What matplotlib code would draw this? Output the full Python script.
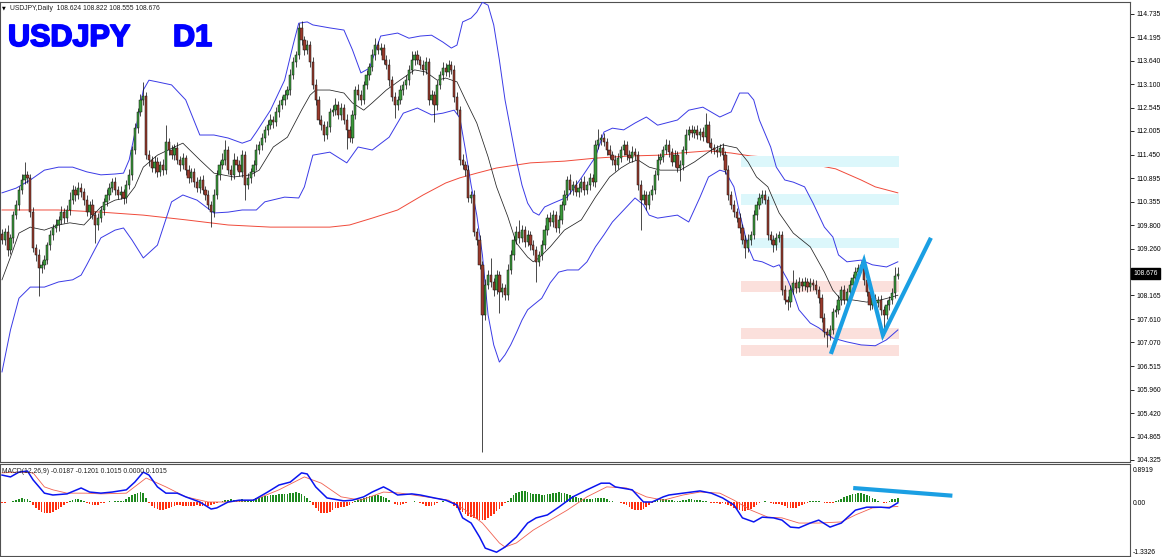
import numpy as np
import matplotlib.pyplot as plt
import matplotlib.transforms as mtrans
import matplotlib.patheffects as pe
from matplotlib.patches import Rectangle

plt.rcParams['font.family'] = ['Liberation Sans', 'DejaVu Sans']

# daily candles: closes, wick sizes (open = previous close)
first_open = 109.60
closes = [
    109.46,109.65,109.23,109.51,110.04,110.28,110.63,110.86,110.98,110.91,
    110.11,109.27,109.11,108.81,108.88,108.99,109.34,109.58,109.74,109.81,
    109.93,110.11,109.97,110.16,110.39,110.63,110.51,110.67,110.58,110.39,
    110.11,110.28,110.04,109.81,109.97,110.16,110.35,110.51,110.67,110.81,
    110.63,110.51,110.58,110.44,110.74,110.98,111.56,112.07,112.45,112.73,
    112.82,111.44,111.33,111.14,111.28,111.05,111.21,111.09,111.75,111.56,
    111.44,111.61,111.33,111.21,111.37,111.09,110.91,111.05,110.81,110.67,
    110.86,110.63,110.51,110.28,110.11,110.51,110.98,111.21,111.33,111.56,
    111.09,110.98,111.33,111.21,111.05,111.44,110.74,110.91,111.05,111.21,
    111.56,111.68,111.84,112.03,112.14,112.26,112.21,112.45,112.61,112.73,
    112.84,112.96,113.31,113.61,113.78,114.41,114.13,113.90,114.01,113.61,
    113.08,112.73,112.26,112.14,111.91,112.10,112.45,112.49,112.61,112.38,
    112.54,112.26,112.03,111.84,112.38,112.96,112.84,112.73,113.08,113.31,
    113.50,113.78,114.01,113.90,113.94,113.66,113.55,113.19,112.80,112.61,
    112.73,112.96,113.08,113.19,113.43,113.66,113.78,113.66,113.55,113.43,
    113.61,112.73,112.84,112.61,113.08,113.31,113.48,113.38,113.55,113.43,
    112.80,112.49,111.33,111.21,111.09,110.44,110.51,109.65,109.46,108.88,
    107.71,108.41,108.64,108.48,108.29,108.64,108.25,108.34,108.17,108.76,
    109.11,109.46,109.65,109.51,109.69,109.41,109.58,109.34,109.23,108.95,
    109.11,109.34,109.69,109.97,109.88,110.04,109.74,109.93,110.28,110.51,
    110.86,110.63,110.74,110.58,110.67,110.81,110.63,110.74,110.91,110.81,
    111.68,111.79,111.84,111.75,111.56,111.44,111.33,111.21,111.37,111.56,
    111.68,111.44,111.37,111.51,111.44,110.74,110.39,110.51,110.28,110.51,
    110.63,110.98,111.33,111.40,111.56,111.68,111.51,111.28,111.44,111.14,
    111.21,111.56,111.91,112.03,111.96,112.03,111.91,111.98,111.86,112.14,
    111.72,111.61,111.56,111.51,111.61,111.44,111.09,110.51,110.28,110.11,
    109.97,109.74,109.46,109.27,109.46,109.58,110.04,110.28,110.44,110.51,
    110.39,109.58,109.46,109.34,109.51,109.58,108.29,108.06,108.01,108.29,
    108.46,108.34,108.48,108.39,108.48,108.36,108.46,108.41,108.29,108.10,
    107.64,107.31,107.24,107.36,107.78,107.83,108.06,108.29,108.06,108.25,
    108.41,108.57,108.71,108.81,108.88,108.53,108.25,107.94,108.10,107.99,
    108.06,107.83,107.71,107.94,108.06,108.22,108.624,108.676,
]
upper_wick = [
    0.12,0.10,0.15,0.08,0.10,0.12,0.09,0.14,0.30,0.10,
    0.08,0.12,0.10,0.15,0.09,0.11,0.08,0.12,0.10,0.13,
    0.10,0.14,0.09,0.12,0.18,0.11,0.10,0.15,0.12,0.09,
    0.11,0.08,0.13,0.10,0.12,0.09,0.10,0.14,0.11,0.09,
    0.12,0.10,0.15,0.08,0.11,0.13,0.10,0.12,0.09,0.14,
    0.33,0.10,0.12,0.09,0.15,0.11,0.10,0.13,0.39,0.10,
    0.12,0.09,0.14,0.10,0.11,0.08,0.12,0.10,0.09,0.13,
    0.10,0.12,0.09,0.11,0.10,0.14,0.12,0.10,0.15,0.23,
    0.10,0.12,0.16,0.09,0.11,0.13,0.10,0.12,0.09,0.11,
    0.14,0.10,0.12,0.09,0.11,0.13,0.10,0.12,0.11,0.09,
    0.12,0.10,0.14,0.11,0.09,0.12,0.15,0.10,0.12,0.09,
    0.11,0.13,0.10,0.12,0.09,0.14,0.10,0.12,0.16,0.09,
    0.11,0.10,0.13,0.09,0.12,0.10,0.14,0.11,0.09,0.12,
    0.10,0.13,0.16,0.09,0.11,0.10,0.12,0.14,0.09,0.11,
    0.10,0.12,0.09,0.13,0.11,0.20,0.10,0.12,0.09,0.11,
    0.13,0.10,0.12,0.09,0.11,0.10,0.14,0.12,0.10,0.09,
    0.11,0.12,0.10,0.13,0.09,0.11,0.10,0.12,0.09,0.11,
    0.10,0.15,0.12,0.40,0.10,0.12,0.09,0.11,0.10,0.13,
    0.12,0.10,0.14,0.28,0.11,0.09,0.12,0.10,0.11,0.09,
    0.10,0.12,0.11,0.09,0.14,0.12,0.10,0.11,0.09,0.12,
    0.10,0.13,0.09,0.11,0.12,0.10,0.14,0.09,0.11,0.10,
    0.12,0.26,0.10,0.11,0.09,0.12,0.10,0.11,0.13,0.09,
    0.12,0.10,0.11,0.14,0.09,0.10,0.12,0.11,0.09,0.10,
    0.12,0.11,0.13,0.09,0.10,0.14,0.11,0.09,0.12,0.10,
    0.11,0.09,0.13,0.10,0.12,0.09,0.11,0.10,0.12,0.28,
    0.10,0.11,0.09,0.12,0.10,0.11,0.09,0.12,0.10,0.11,
    0.09,0.12,0.10,0.11,0.13,0.09,0.12,0.10,0.11,0.12,
    0.12,0.10,0.09,0.11,0.12,0.10,0.09,0.11,0.10,0.12,
    0.30,0.10,0.12,0.09,0.11,0.10,0.12,0.09,0.11,0.10,
    0.09,0.12,0.10,0.11,0.10,0.12,0.11,0.09,0.12,0.10,
    0.11,0.09,0.12,0.10,0.09,0.11,0.12,0.10,0.09,0.11,
    0.10,0.12,0.09,0.11,0.10,0.12,0.20,0.146,
]
lower_wick = [
    0.10,0.12,0.15,0.09,0.11,0.08,0.12,0.10,0.09,0.13,
    0.11,0.10,0.14,0.65,0.12,0.10,0.09,0.12,0.11,0.10,
    0.13,0.09,0.11,0.10,0.12,0.09,0.14,0.10,0.11,0.12,
    0.10,0.13,0.09,0.42,0.11,0.10,0.12,0.09,0.11,0.10,
    0.12,0.10,0.09,0.13,0.11,0.10,0.12,0.09,0.11,0.10,
    0.12,0.10,0.14,0.09,0.11,0.13,0.10,0.12,0.09,0.11,
    0.10,0.12,0.09,0.14,0.10,0.11,0.13,0.09,0.12,0.10,
    0.11,0.09,0.12,0.10,0.35,0.11,0.10,0.12,0.09,0.11,
    0.10,0.12,0.09,0.11,0.10,0.13,0.35,0.10,0.12,0.09,
    0.11,0.10,0.12,0.09,0.11,0.10,0.13,0.09,0.11,0.10,
    0.12,0.09,0.11,0.10,0.12,0.09,0.11,0.13,0.10,0.12,
    0.09,0.11,0.10,0.12,0.14,0.09,0.11,0.10,0.12,0.09,
    0.11,0.10,0.44,0.09,0.12,0.10,0.11,0.13,0.09,0.10,
    0.12,0.09,0.11,0.10,0.12,0.09,0.11,0.13,0.10,0.30,
    0.11,0.09,0.12,0.10,0.11,0.09,0.12,0.10,0.11,0.13,
    0.09,0.12,0.10,0.40,0.11,0.09,0.12,0.10,0.11,0.09,
    0.12,0.10,0.11,0.09,0.13,0.10,0.12,0.09,0.11,0.10,
    3.20,0.12,0.10,0.11,0.13,0.09,0.50,0.12,0.10,0.11,
    0.09,0.12,0.10,0.11,0.09,0.12,0.10,0.11,0.13,0.47,
    0.10,0.12,0.09,0.11,0.10,0.12,0.09,0.11,0.10,0.12,
    0.11,0.09,0.12,0.10,0.11,0.09,0.12,0.10,0.11,0.09,
    0.12,0.10,0.11,0.09,0.12,0.10,0.11,0.13,0.09,0.10,
    0.12,0.11,0.09,0.10,0.12,0.11,0.70,0.10,0.12,0.09,
    0.11,0.10,0.12,0.09,0.11,0.10,0.12,0.09,0.11,0.10,
    0.30,0.12,0.09,0.11,0.10,0.12,0.09,0.11,0.10,0.12,
    0.09,0.11,0.10,0.12,0.09,0.11,0.10,0.12,0.09,0.11,
    0.10,0.12,0.09,0.23,0.10,0.12,0.09,0.11,0.10,0.12,
    0.09,0.11,0.10,0.16,0.12,0.09,0.11,0.10,0.18,0.12,
    0.09,0.11,0.10,0.12,0.09,0.11,0.10,0.12,0.09,0.11,
    0.10,0.12,0.28,0.11,0.10,0.12,0.09,0.11,0.10,0.12,
    0.09,0.11,0.10,0.12,0.09,0.11,0.10,0.12,0.09,0.11,
    0.10,0.12,0.47,0.10,0.11,0.09,0.12,0.069,
]

# Bollinger bands (20,2) and MA200, read at selected bars
bb_up_x = [0,5,10,15,20,25,30,35,40,43,45,48,50,52,55,60,65,70,75,80,85,88,90,95,100,103,105,108,110,116,
           121,124,127,130,134,140,144,148,152,156,159,161,163,166,168,170,172,174,176,178,180,182,184,186,188,190,192,195,200,205,
           210,213,216,220,224,228,232,239,243,248,254,258,261,264,266,268,272,274,277,280,284,287,291,294,296,299,304,308,313,317]
bb_up = [110.56,110.67,110.86,111.09,111.16,111.16,111.05,110.98,111.00,111.02,111.33,112.26,112.96,113.19,113.15,113.08,112.73,111.91,111.91,111.84,
         111.72,111.79,111.98,112.49,113.19,114.01,114.52,114.55,114.48,114.41,114.36,113.90,113.36,113.47,114.22,114.29,114.17,114.22,114.24,114.08,
         113.94,114.01,114.55,114.64,114.78,115.01,114.94,114.48,113.66,112.73,112.03,111.33,110.74,110.32,110.11,110.04,110.23,110.32,110.46,110.91,
         111.40,111.98,112.07,112.03,112.19,112.33,112.14,112.26,112.49,112.56,112.33,112.45,112.89,112.89,112.73,112.26,111.63,111.16,110.86,110.81,
         110.70,110.32,109.76,109.53,109.11,108.95,108.99,108.88,108.83,108.95]
bb_lo_x = [0,3,6,10,15,20,25,28,30,35,40,43,46,50,55,60,64,69,75,80,85,90,93,100,105,107,110,116,122,126,
           131,137,142,147,152,156,160,162,164,166,168,170,172,174,176,178,180,182,184,186,188,191,194,197,200,204,207,210,213,216,
           220,224,227,229,232,239,243,247,250,254,256,259,261,264,266,269,273,275,278,280,282,286,289,294,299,304,309,313,317]
bb_lo = [106.38,107.36,108.10,108.36,108.36,108.48,108.53,108.64,108.88,109.51,109.69,109.74,109.46,109.04,109.34,110.35,110.51,110.39,110.09,110.11,
         110.16,110.16,110.35,110.46,110.44,110.70,111.44,111.51,111.26,111.63,111.56,111.86,112.42,112.54,112.38,112.42,112.49,112.31,111.56,110.74,
         110.04,109.11,107.71,107.01,106.61,106.78,107.01,107.29,107.59,107.83,107.94,108.10,108.46,108.71,108.76,108.76,108.95,109.30,109.58,109.88,
         110.16,110.44,110.28,110.04,109.97,110.04,109.88,110.46,110.93,111.09,111.05,110.70,110.09,109.30,108.99,108.95,108.83,108.88,108.53,108.22,
         107.83,107.52,107.41,107.17,107.08,107.01,106.99,107.13,107.36]
mid_x = [0,3,6,10,15,20,24,29,35,40,44,47,50,55,61,64,70,75,82,88,91,96,101,106,109,111,116,121,124,128,
         131,136,140,146,150,154,157,161,164,168,172,175,179,182,186,188,190,194,199,205,210,215,219,222,225,229,233,240,245,251,
         255,260,264,267,271,275,280,286,291,294,297,301,306,311,315,317]
mid = [108.53,109.06,109.62,109.76,109.69,109.81,109.86,109.81,110.23,110.39,110.44,110.70,111.16,111.44,111.63,111.72,111.33,111.02,110.93,110.98,
       111.09,111.63,111.86,112.49,112.84,112.96,112.96,112.89,112.66,112.49,112.66,112.96,113.15,113.43,113.38,113.19,113.24,113.15,112.73,112.19,
       111.40,110.70,110.00,109.39,109.06,108.95,109.04,109.30,109.69,109.93,110.46,110.93,111.14,111.26,111.33,111.16,111.09,111.09,111.28,111.56,
       111.68,111.61,111.28,110.93,110.70,110.09,109.62,109.30,108.71,108.29,108.06,108.06,108.01,108.06,108.13,108.17]
ma200_x = [0,20,35,50,65,80,95,116,123,131,140,149,157,162,168,175,187,199,210,222,233,240,250,258,265,276,288,295,304,309,317]
ma200 = [110.16,110.16,110.11,110.04,109.93,109.81,109.76,109.76,109.81,109.97,110.16,110.51,110.79,110.91,111.02,111.14,111.26,111.30,111.37,111.42,
         111.44,111.49,111.54,111.49,111.42,111.37,111.21,111.12,110.86,110.70,110.56]

# MACD(12,26,9)
macd_x = [0,3,6,9,11,15,18,23,28,31,35,39,44,47,50,52,55,58,62,65,70,74,76,80,84,89,94,98,102,106,
          108,111,115,121,124,128,131,135,137,140,145,148,153,157,161,163,166,169,171,175,178,182,186,189,193,197,202,207,212,215,
          217,223,227,230,234,236,241,247,251,255,259,262,266,269,273,276,279,282,286,289,293,297,299,302,306,311,314,317]
macd = [0.73,0.68,0.81,0.84,0.60,0.24,0.19,0.22,0.38,0.27,0.24,0.27,0.33,0.54,0.81,0.73,0.41,0.24,0.24,0.14,
        0.00,-0.19,-0.16,0.00,0.05,0.05,0.27,0.46,0.54,0.79,0.76,0.41,0.11,0.03,0.05,0.14,0.27,0.41,0.33,0.19,
        0.22,0.19,0.11,0.05,-0.08,-0.43,-0.57,-0.95,-1.25,-1.36,-1.22,-0.95,-0.57,-0.43,-0.35,-0.14,0.14,0.33,0.51,0.51,
        0.41,0.33,0.00,0.00,0.14,0.19,0.24,0.30,0.24,0.11,-0.08,-0.43,-0.54,-0.41,-0.43,-0.49,-0.68,-0.70,-0.57,-0.49,
        -0.68,-0.57,-0.43,-0.22,-0.14,-0.14,-0.16,-0.02]
signal_x = [0,6,11,15,18,23,30,35,44,51,58,65,73,80,89,98,107,113,120,127,135,141,150,158,164,170,176,178,182,188,
            194,200,207,214,221,228,234,241,247,254,259,265,271,276,282,289,297,302,308,313,317]
signal = [0.79,0.81,0.79,0.41,0.33,0.24,0.24,0.22,0.24,0.65,0.41,0.14,0.00,0.00,0.05,0.33,0.68,0.51,0.14,0.05,
          0.27,0.24,0.14,0.05,-0.22,-0.57,-1.11,-1.22,-1.11,-0.76,-0.49,-0.22,0.14,0.41,0.38,0.14,0.05,0.19,0.27,0.24,
          0.05,-0.22,-0.41,-0.43,-0.57,-0.57,-0.54,-0.35,-0.16,-0.14,-0.12]
osma = [
    -0.02,-0.02,-0.01,-0.01,0.02,0.05,0.08,0.10,0.09,0.07,
    0.03,-0.08,-0.15,-0.22,-0.27,-0.30,-0.31,-0.29,-0.26,-0.22,
    -0.18,-0.13,-0.08,-0.04,0.02,0.06,0.08,0.07,0.05,0.02,
    -0.02,-0.05,-0.08,-0.09,-0.07,-0.04,-0.02,0.01,0.02,0.01,
    0.02,0.03,0.02,0.04,0.08,0.13,0.18,0.22,0.25,0.27,
    0.24,0.12,-0.02,-0.10,-0.16,-0.20,-0.22,-0.22,-0.20,-0.17,
    -0.13,-0.10,-0.08,-0.09,-0.10,-0.11,-0.12,-0.11,-0.10,-0.09,
    -0.10,-0.11,-0.12,-0.11,-0.09,-0.06,-0.03,0.01,0.03,0.05,
    0.06,0.07,0.06,0.05,0.06,0.07,0.05,0.04,0.05,0.07,
    0.10,0.12,0.14,0.16,0.17,0.18,0.19,0.20,0.21,0.22,
    0.22,0.23,0.24,0.25,0.26,0.25,0.22,0.17,0.10,0.02,
    -0.08,-0.17,-0.24,-0.29,-0.31,-0.30,-0.26,-0.21,-0.17,-0.15,
    -0.14,-0.13,-0.11,-0.08,-0.04,0.02,0.06,0.09,0.12,0.14,
    0.16,0.17,0.18,0.18,0.16,0.13,0.10,0.05,-0.01,-0.05,
    -0.07,-0.08,-0.06,-0.03,-0.01,0.01,0.02,0.01,-0.02,-0.06,
    -0.10,-0.12,-0.11,-0.07,-0.03,0.01,0.02,0.01,-0.01,-0.04,
    -0.10,-0.16,-0.22,-0.28,-0.33,-0.37,-0.40,-0.44,-0.47,-0.49,
    -0.50,-0.48,-0.44,-0.38,-0.32,-0.25,-0.18,-0.11,-0.04,0.03,
    0.10,0.18,0.24,0.28,0.30,0.29,0.27,0.25,0.23,0.22,
    0.21,0.20,0.20,0.21,0.22,0.24,0.25,0.26,0.25,0.24,
    0.22,0.20,0.17,0.14,0.12,0.10,0.09,0.08,0.07,0.08,
    0.10,0.12,0.12,0.10,0.07,0.04,0.02,0.01,0.00,-0.02,
    -0.05,-0.09,-0.14,-0.18,-0.21,-0.22,-0.21,-0.18,-0.13,-0.08,
    -0.03,0.02,0.05,0.07,0.08,0.08,0.06,0.05,0.04,0.03,
    0.04,0.05,0.06,0.07,0.07,0.06,0.06,0.05,0.04,0.02,
    0.00,-0.02,-0.03,-0.04,-0.05,-0.04,-0.05,-0.08,-0.12,-0.16,
    -0.20,-0.23,-0.24,-0.24,-0.22,-0.19,-0.14,-0.09,-0.04,0.00,
    0.02,-0.01,-0.04,-0.06,-0.05,-0.06,-0.09,-0.12,-0.15,-0.16,
    -0.16,-0.15,-0.12,-0.09,-0.05,-0.02,0.02,0.04,0.04,0.03,
    0.01,-0.02,-0.04,-0.04,-0.02,0.02,0.05,0.09,0.13,0.17,
    0.20,0.22,0.23,0.24,0.24,0.22,0.19,0.15,0.11,0.07,
    0.04,0.01,-0.02,-0.03,0.02,0.07,0.09,0.11,
]

# drawn objects: support/resistance zones and the hand-drawn lines
zone_bars = (261.5, 317.5)
resist_zones = [(111.17, 111.42), (110.28, 110.53), (109.27, 109.51)]
support_zones = [(108.25, 108.51), (107.14, 107.40), (106.74, 107.01)]
zigzag_x = [293.3, 305.0, 311.7, 328.7]
zigzag_y = [106.80, 108.97, 107.24, 109.51]
macd_trend_x = [301.2, 336.3]
macd_trend_y = [0.379, 0.171]

price_ticks = [114.735, 114.195, 113.640, 113.100, 112.545, 112.005, 111.450, 110.895, 110.355,
               109.800, 109.260, 108.165, 107.610, 107.070, 106.515, 105.960, 105.420, 104.865, 104.325]
macd_ticks = [0.8919, 0.0, -1.3326]
macd_tick_labels = ['0.8919', '0.00', '-1.3326']

W, H = 1164, 557
fig = plt.figure(figsize=(W / 100, H / 100), dpi=100)
ax = fig.add_axes([0, (H - 462) / H, 1130 / W, 460 / H])
ax2 = fig.add_axes([0, (H - 556) / H, 1130 / W, 92 / H])

xlim = (-0.708, 399.15)
small = 4.9

# candles
c = np.array(closes)
o = np.array([first_open] + closes[:-1])
hi = np.maximum(o, c) + np.array(upper_wick)
lo = np.minimum(o, c) - np.array(lower_wick)
idx = np.arange(len(c))
up = c >= o
ax.vlines(idx, lo, hi, color='black', lw=0.5, zorder=4)
ax.bar(idx[up], (c - o)[up], bottom=o[up], width=0.8, color='#3a9a3a',
       edgecolor='#111111', lw=0.35, zorder=5)
ax.bar(idx[~up], (o - c)[~up], bottom=c[~up], width=0.8, color='#9a3a2c',
       edgecolor='#111111', lw=0.35, zorder=5)

# indicators
ax.plot(ma200_x, ma200, color='#f04a3a', lw=0.7, zorder=2)
for z0, z1 in resist_zones:
    ax.add_patch(Rectangle((zone_bars[0], z0), zone_bars[1] - zone_bars[0], z1 - z0,
                           color='#dcf7fb', lw=0, zorder=2.5))
for z0, z1 in support_zones:
    ax.add_patch(Rectangle((zone_bars[0], z0), zone_bars[1] - zone_bars[0], z1 - z0,
                           color='#fbe0dc', lw=0, zorder=2.5))
ax.plot(bb_up_x, bb_up, color='#3a3ae6', lw=0.7, zorder=3)
ax.plot(bb_lo_x, bb_lo, color='#3a3ae6', lw=0.7, zorder=3)
ax.plot(mid_x, mid, color='#222222', lw=0.55, zorder=3)
ax.plot(zigzag_x, zigzag_y, color='#1a9fe3', lw=3.0, solid_capstyle='butt',
        solid_joinstyle='miter', zorder=7)

ax.set_xlim(*xlim)
ax.set_ylim(104.277, 115.015)
ax.set_xticks([])
ax.yaxis.tick_right()
ax.set_yticks(price_ticks)
ax.set_yticklabels(['%.3f' % v for v in price_ticks])
ax.tick_params(axis='y', direction='out', length=3, width=0.6, labelsize=small, pad=1.5)

trans = mtrans.blended_transform_factory(ax.transAxes, ax.transData)
ax.text(1.003, closes[-1], '%.3f' % closes[-1], transform=trans, va='center', ha='left',
        color='white', fontsize=small,
        bbox=dict(boxstyle='square,pad=0.3', fc='black', ec='black'), zorder=10)

# MACD panel
h = np.array(osma)
ax2.bar(idx, h, width=0.6, color=np.where(h >= 0, '#1f8a1f', '#ff3010'), lw=0, zorder=2)
ax2.plot(signal_x, signal, color='#f06050', lw=0.6, zorder=3)
ax2.plot(macd_x, macd, color='#0a14f0', lw=1.1, zorder=4)
ax2.plot(macd_trend_x, macd_trend_y, color='#1a9fe3', lw=3.0, solid_capstyle='butt', zorder=6)
ax2.set_xlim(*xlim)
ax2.set_ylim(-1.463, 1.030)
ax2.set_xticks([])
ax2.yaxis.tick_right()
ax2.set_yticks(macd_ticks)
ax2.set_yticklabels(macd_tick_labels)
ax2.tick_params(axis='y', direction='out', length=0, labelsize=small, pad=2)

for a in (ax, ax2):
    for s in a.spines.values():
        s.set_color('#505050')
        s.set_linewidth(0.8)

# texts
fig.text(2 / W, 1 - 9.5 / H, '\u25bc', fontsize=3.5, color='black', va='baseline',
         family=['DejaVu Sans'])
fig.text(10 / W, 1 - 9.5 / H, 'USDJPY,Daily  108.624 108.822 108.555 108.676',
         fontsize=small, color='#202020', va='baseline')
heavy = [pe.withStroke(linewidth=1.3, foreground='#0000ff')]
fig.text(8 / W, 1 - 46 / H, 'USDJPY', fontsize=22, fontweight='bold', color='#0000ff',
         va='baseline', path_effects=heavy)
fig.text(173 / W, 1 - 46 / H, 'D1', fontsize=22, fontweight='bold', color='#0000ff',
         va='baseline', path_effects=heavy)
fig.text(2 / W, 1 - 473 / H, 'MACD(12,26,9) -0.0187 -0.1201 0.1015 0.0000 0.1015',
         fontsize=small, color='#202020', va='baseline')

fig.savefig('out.png', dpi=100)
